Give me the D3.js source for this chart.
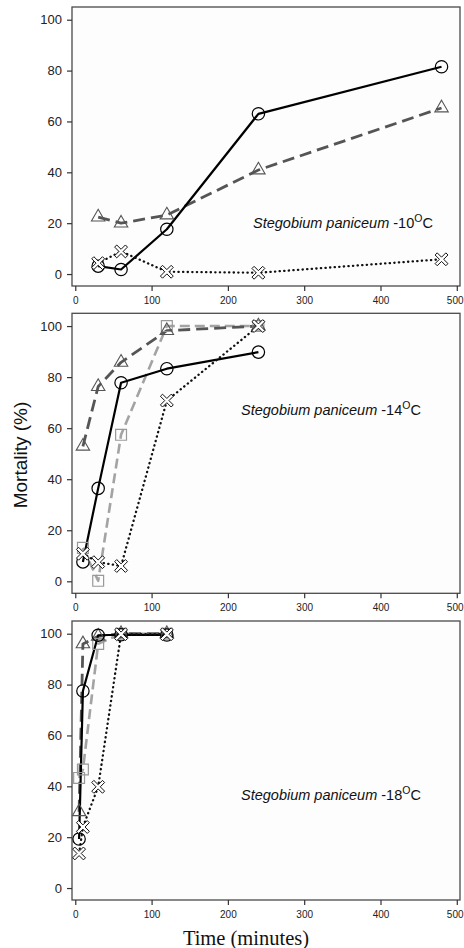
<!DOCTYPE html>
<html>
<head>
<meta charset="utf-8">
<script src="https://cdn.jsdelivr.net/npm/d3@7"></script>
<style>
  html, body { margin: 0; padding: 0; background: #ffffff; }
  svg { display: block; }
</style>
</head>
<body>
<script>
// ---------------- DATA ----------------
const panelTemps = ["-10", "-14", "-18"];
const speciesName = "Stegobium paniceum";

const xTicks = [0, 100, 200, 300, 400, 500];
const yTicks = [0, 20, 40, 60, 80, 100];

// Panel -10 °C
const times10 = [30, 60, 120, 240, 480];
const circle10 = [3.1, 1.8, 17.6, 63.0, 81.5];
const triangle10 = [22.4, 20.0, 23.2, 40.9, 65.3];
const cross10 = [4.3, 8.9, 0.9, 0.5, 5.8];

// Panel -14 °C
const times14 = [10, 30, 60, 120, 240];
const circle14 = [7.6, 36.4, 77.8, 83.3, 89.8];
const triangle14 = [52.9, 76.3, 85.8, 98.2, 100];
const square14 = [13.1, 0.2, 57.4, 100, 100];
const cross14 = [10.8, 7.5, 6.0, 70.8, 100];

// Panel -18 °C
const times18 = [5, 10, 30, 60, 120];
const circle18 = [19.3, 77.5, 99.4, 99.6, 99.5];
const triangle18 = [30.0, 96.0, 99.0, 100, 100];
const square18 = [43.3, 46.6, 96.0, 100, 100];
const cross18 = [13.6, 24.0, 39.8, 99.8, 99.8];

// ---------------- LAYOUT / STYLE ----------------
const W = 464, H = 948;
const frameLeft = 72, frameRight = 460;
const panelBoxes = [
  { top: 7, bottom: 286 },
  { top: 313.3, bottom: 593.3 },
  { top: 621, bottom: 900 }
];
const annotationPos = [
  { x: 253, dy: 221 },
  { x: 241, dy: 102 },
  { x: 241, dy: 179 }
];

const seriesStyle = {
  square:   { stroke: "#a3a3a3", width: 2.6, dash: "10,5", cap: "butt" },
  triangle: { stroke: "#555555", width: 2.8, dash: "12,6", cap: "butt" },
  circle:   { stroke: "#000000", width: 2.2, dash: null, cap: "butt" },
  cross:    { stroke: "#111111", width: 2.3, dash: "0.3,4.3", cap: "round" }
};

const panels = [
  { times: times10, series: [["triangle", triangle10], ["circle", circle10], ["cross", cross10]] },
  { times: times14, series: [["square", square14], ["triangle", triangle14], ["circle", circle14], ["cross", cross14]] },
  { times: times18, series: [["square", square18], ["triangle", triangle18], ["circle", circle18], ["cross", cross18]] }
];

const svg = d3.select("body").append("svg")
  .attr("width", W).attr("height", H)
  .style("font-family", "'Liberation Sans', Arial, Helvetica, sans-serif");

svg.append("rect").attr("width", W).attr("height", H).attr("fill", "#ffffff");

// X-shaped marker (outlined)
function crossPath(L, w) {
  const pts = [[-w,-L],[w,-L],[w,-w],[L,-w],[L,w],[w,w],[w,L],[-w,L],[-w,w],[-L,w],[-L,-w],[-w,-w]];
  const c = Math.SQRT1_2;
  const rp = pts.map(([x, y]) => [(x - y) * c, (x + y) * c]);
  return d3.line()(rp) + "Z";
}

panels.forEach((p, i) => {
  const box = panelBoxes[i];
  const x = d3.scaleLinear().domain([-4.3, 504.2]).range([frameLeft, frameRight]);
  const y = d3.scaleLinear().domain([-4.7, 105]).range([box.bottom, box.top]);

  const g = svg.append("g");

  // frame
  g.append("rect")
    .attr("x", frameLeft).attr("y", box.top)
    .attr("width", frameRight - frameLeft).attr("height", box.bottom - box.top)
    .attr("fill", "#fdfdfd").attr("stroke", "#4a4a4a").attr("stroke-width", 1.3);

  // y axis
  const ya = g.append("g").attr("transform", `translate(${frameLeft},0)`)
    .call(d3.axisLeft(y).tickValues(yTicks).tickSize(5).tickPadding(5));
  ya.select(".domain").remove();
  ya.selectAll(".tick line").attr("stroke", "#333").attr("stroke-width", 1.2);
  ya.selectAll(".tick text").attr("fill", "#222").style("font-size", "13px")
    .style("font-family", "'Liberation Sans', Arial, sans-serif");

  // x axis
  const xa = g.append("g").attr("transform", `translate(0,${box.bottom})`)
    .call(d3.axisBottom(x).tickValues(xTicks).tickSize(5).tickPadding(6));
  xa.select(".domain").remove();
  xa.selectAll(".tick line").attr("stroke", "#333").attr("stroke-width", 1.2);
  xa.selectAll(".tick text").attr("fill", "#222").style("font-size", "10px")
    .style("font-family", "'Liberation Sans', Arial, sans-serif");
  // keep the last label inside the picture
  xa.selectAll(".tick text").filter(d => d === xTicks[xTicks.length - 1])
    .attr("text-anchor", "end").attr("x", W - 1 - x(xTicks[xTicks.length - 1]));

  const line = d3.line().x(d => x(d[0])).y(d => y(d[1]));

  // lines
  p.series.forEach(([key, vals]) => {
    const st = seriesStyle[key];
    const pts = p.times.map((t, k) => [t, vals[k]]);
    g.append("path").attr("d", line(pts))
      .attr("fill", "none").attr("stroke", st.stroke)
      .attr("stroke-width", st.width)
      .attr("stroke-dasharray", st.dash)
      .attr("stroke-linecap", st.cap)
      .attr("stroke-linejoin", "round");
  });

  // markers
  p.series.forEach(([key, vals]) => {
    const pts = p.times.map((t, k) => [t, vals[k]]);
    const mg = g.append("g");
    pts.forEach(d => {
      const tx = x(d[0]), ty = y(d[1]);
      if (key === "circle") {
        mg.append("path").attr("d", d3.symbol(d3.symbolCircle, 120)())
          .attr("transform", `translate(${tx},${ty})`)
          .attr("fill", "none").attr("stroke", "#000").attr("stroke-width", 1.2);
      } else if (key === "triangle") {
        mg.append("path").attr("d", d3.symbol(d3.symbolTriangle, 78)())
          .attr("transform", `translate(${tx},${ty})`)
          .attr("fill", "none").attr("stroke", "#555").attr("stroke-width", 1.1);
      } else if (key === "square") {
        mg.append("path").attr("d", d3.symbol(d3.symbolSquare, 118)())
          .attr("transform", `translate(${tx},${ty})`)
          .attr("fill", "none").attr("stroke", "#999").attr("stroke-width", 1.2);
      } else {
        mg.append("path").attr("d", crossPath(7.6, 1.5))
          .attr("transform", `translate(${tx},${ty})`)
          .attr("fill", "#fff").attr("stroke", "#111").attr("stroke-width", 1.0);
      }
    });
  });

  // annotation
  const ap = annotationPos[i];
  const t = g.append("text")
    .attr("x", ap.x).attr("y", box.top + ap.dy)
    .attr("fill", "#111").style("font-size", "14.5px");
  t.append("tspan").attr("font-style", "italic").text(speciesName);
  t.append("tspan").text(" " + panelTemps[i]);
  t.append("tspan").attr("dy", -6.5).style("font-size", "10.5px").text("O");
  t.append("tspan").attr("dy", 6.5).text("C");
});

// axis titles
svg.append("text")
  .attr("transform", "translate(26.5,455) rotate(-90)")
  .attr("text-anchor", "middle")
  .attr("fill", "#111")
  .style("font-size", "19px")
  .text("Mortality (%)");

svg.append("text")
  .attr("x", 246).attr("y", 945)
  .attr("text-anchor", "middle")
  .attr("fill", "#111")
  .style("font-family", "'Liberation Serif', 'Times New Roman', serif")
  .style("font-size", "20.5px")
  .text("Time (minutes)");
</script>
</body>
</html>
